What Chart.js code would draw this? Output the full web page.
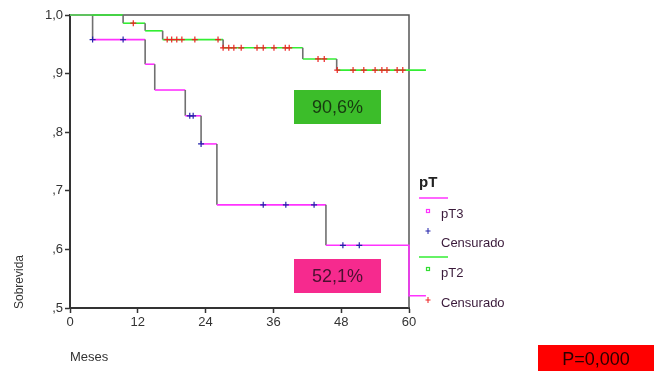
<!DOCTYPE html>
<html>
<head>
<meta charset="utf-8">
<script src="https://cdn.jsdelivr.net/npm/chart.js@4/dist/chart.umd.min.js"></script>
<style>
html,body{margin:0;padding:0;background:#fff;}
#wrap{position:relative;width:654px;height:371px;}
</style>
</head>
<body>
<div id="wrap"><canvas id="c" width="654" height="371"></canvas></div>
<script>
// ---- data ----
const xTicks = [0, 12, 24, 36, 48, 60];
const yTicks = [0.5, 0.6, 0.7, 0.8, 0.9, 1.0];
const xMin = 0, xMax = 60;
const endTime = 63;

// pT2: event times and survival after each event
const pT2EventTimes = [9.4, 13.3, 16.4, 27.1, 41.2, 47.2];
const pT2Survival   = [0.986, 0.973, 0.958, 0.944, 0.925, 0.906];
const pT2Censored   = [11.2, 17.2, 18.0, 18.9, 19.8, 22.1, 26.2, 27.1, 28.1, 29.0, 30.3, 33.1, 34.2, 36.1, 38.1, 38.8, 43.9, 45.0, 47.3, 50.1, 52.0, 54.0, 55.2, 56.1, 57.9, 58.9];

// pT3
const pT3EventTimes = [4.0, 13.3, 15.0, 20.4, 23.2, 26.0, 45.3, 60.0];
const pT3Survival   = [0.958, 0.916, 0.872, 0.828, 0.780, 0.676, 0.607, 0.521];
const pT3Censored   = [4.0, 9.4, 21.2, 21.8, 23.2, 34.2, 38.2, 43.2, 48.3, 51.2];

const labels = { pT2: '90,6%', pT3: '52,1%', p: 'P=0,000' };

// ---- build step curves ----
function stepPoints(times, surv, end) {
  const pts = [{x: 0, y: 1}];
  let prev = 1;
  times.forEach((t, i) => {
    pts.push({x: t, y: prev});
    pts.push({x: t, y: surv[i]});
    prev = surv[i];
  });
  pts.push({x: end, y: prev});
  return pts;
}
function survAt(times, surv, t) {
  let s = 1;
  times.forEach((tt, i) => { if (tt <= t) s = surv[i]; });
  return s;
}
const censorPts = (c, times, surv) => c.map(t => ({x: t, y: survAt(times, surv, t)}));

const GREEN = '#33ee33', MAGENTA = '#ff33ff', VGREY = '#707070';
const vertColor = (base) => ({
  borderColor: ctx => (ctx.p0.parsed.x === ctx.p1.parsed.x && ctx.p0.parsed.x < xMax) ? VGREY : base
});

const framePlugin = {
  id: 'frame',
  beforeDatasetsDraw(chart) {
    const {ctx, chartArea: a} = chart;
    ctx.save();
    ctx.strokeStyle = '#555';
    ctx.lineWidth = 1.5;
    ctx.beginPath();
    ctx.moveTo(a.left, a.top); ctx.lineTo(a.right, a.top); ctx.lineTo(a.right, a.bottom);
    ctx.stroke();
    ctx.restore();
  },
  afterDraw(chart) {
    const {ctx} = chart;
    ctx.save();
    // axis titles
    ctx.fillStyle = '#333';
    ctx.font = '12px "Liberation Sans", Arial, sans-serif';
    ctx.textAlign = 'center'; ctx.textBaseline = 'middle';
    ctx.save(); ctx.translate(20, 282); ctx.rotate(-Math.PI / 2); ctx.fillText('Sobrevida', 0, 0); ctx.restore();
    ctx.font = '13px "Liberation Sans", Arial, sans-serif';
    ctx.textAlign = 'left';
    ctx.fillText('Meses', 70, 357);

    // annotation boxes
    ctx.font = '18px "Liberation Sans", Arial, sans-serif';
    ctx.textAlign = 'center';
    ctx.fillStyle = '#3cbd2a'; ctx.fillRect(294, 90, 87, 34);
    ctx.fillStyle = '#173a10'; ctx.fillText(labels.pT2, 337.5, 108);
    ctx.fillStyle = '#f62a8e'; ctx.fillRect(294, 259, 87, 34);
    ctx.fillStyle = '#4a1030'; ctx.fillText(labels.pT3, 337.5, 277);
    ctx.fillStyle = '#ff0000'; ctx.fillRect(538, 345, 116, 26);
    ctx.fillStyle = '#2a0000'; ctx.fillText(labels.p, 596, 360);

    // legend
    ctx.textAlign = 'left';
    ctx.fillStyle = '#222';
    ctx.font = 'bold 15px "Liberation Sans", Arial, sans-serif';
    ctx.fillText('pT', 419, 183);
    ctx.lineWidth = 1.5;
    ctx.strokeStyle = MAGENTA; ctx.beginPath(); ctx.moveTo(419, 198); ctx.lineTo(448, 198); ctx.stroke();
    ctx.strokeStyle = GREEN; ctx.beginPath(); ctx.moveTo(419, 257); ctx.lineTo(448, 257); ctx.stroke();
    ctx.lineWidth = 1.2;
    ctx.strokeStyle = MAGENTA; ctx.strokeRect(426.5, 209.5, 3, 3);
    ctx.strokeStyle = '#33dd33'; ctx.strokeRect(426.5, 267.5, 3, 3);
    ctx.lineWidth = 1;
    ctx.strokeStyle = '#2222aa'; ctx.beginPath(); ctx.moveTo(428, 228); ctx.lineTo(428, 234); ctx.moveTo(425.5, 231); ctx.lineTo(430.5, 231); ctx.stroke();
    ctx.strokeStyle = '#ee2222'; ctx.beginPath(); ctx.moveTo(428, 297); ctx.lineTo(428, 303); ctx.moveTo(425.5, 300); ctx.lineTo(430.5, 300); ctx.stroke();
    ctx.font = '13px "Liberation Sans", Arial, sans-serif';
    ctx.fillStyle = '#3a1a3a';
    ctx.fillText('pT3', 441, 214);
    ctx.fillText('Censurado', 441, 243);
    ctx.fillText('pT2', 441, 273);
    ctx.fillText('Censurado', 441, 303);
    ctx.restore();
  }
};

new Chart(document.getElementById('c'), {
  type: 'line',
  data: {
    datasets: [
      { label: 'pT2', data: stepPoints(pT2EventTimes, pT2Survival, endTime), borderColor: GREEN, borderWidth: 1.6,
        pointRadius: 0, tension: 0, clip: false, segment: vertColor(GREEN), order: 2 },
      { label: 'pT3', data: stepPoints(pT3EventTimes, pT3Survival, endTime), borderColor: MAGENTA, borderWidth: 1.6,
        pointRadius: 0, tension: 0, clip: false, segment: vertColor(MAGENTA), order: 3 },
      { type: 'scatter', label: 'Censurado pT2', data: censorPts(pT2Censored, pT2EventTimes, pT2Survival),
        pointStyle: 'cross', pointRadius: 3, borderColor: '#ee2222', backgroundColor: '#ee2222', borderWidth: 1.2, order: 0 },
      { type: 'scatter', label: 'Censurado pT3', data: censorPts(pT3Censored, pT3EventTimes, pT3Survival),
        pointStyle: 'cross', pointRadius: 3, borderColor: '#2222aa', backgroundColor: '#2222aa', borderWidth: 1.2, order: 1 }
    ]
  },
  options: {
    responsive: false,
    animation: false,
    layout: { padding: { top: 15, right: 245, left: 0, bottom: 0 } },
    plugins: { legend: { display: false }, tooltip: { enabled: false } },
    scales: {
      x: {
        type: 'linear',
        afterDataLimits: s => { s.min = xMin; s.max = xMax; },
        afterBuildTicks: s => { s.ticks = xTicks.map(v => ({value: v})); s.min = xMin; s.max = xMax; },
        afterFit: s => { s.height = 63; },
        grid: { display: true, drawOnChartArea: false, drawTicks: true, tickLength: 5, tickColor: '#333', tickWidth: 1.5 },
        border: { display: true, color: '#333', width: 2 },
        ticks: { color: '#333', font: { size: 13, family: '"Liberation Sans", Arial, sans-serif' }, padding: 2, maxRotation: 0 }
      },
      y: {
        type: 'linear', min: 0.5, max: 1.0,
        afterBuildTicks: s => { s.ticks = yTicks.map(v => ({value: v})); },
        afterFit: s => { s.width = 70; },
        grid: { display: true, drawOnChartArea: false, drawTicks: true, tickLength: 5, tickColor: '#333', tickWidth: 1.5 },
        border: { display: true, color: '#333', width: 2 },
        ticks: { color: '#333', font: { size: 13, family: '"Liberation Sans", Arial, sans-serif' }, padding: 2,
          callback: v => Math.abs(v - 1) < 1e-6 ? '1,0' : ',' + Math.round(v * 10) }
      }
    }
  },
  plugins: [framePlugin]
});
</script>
</body>
</html>
